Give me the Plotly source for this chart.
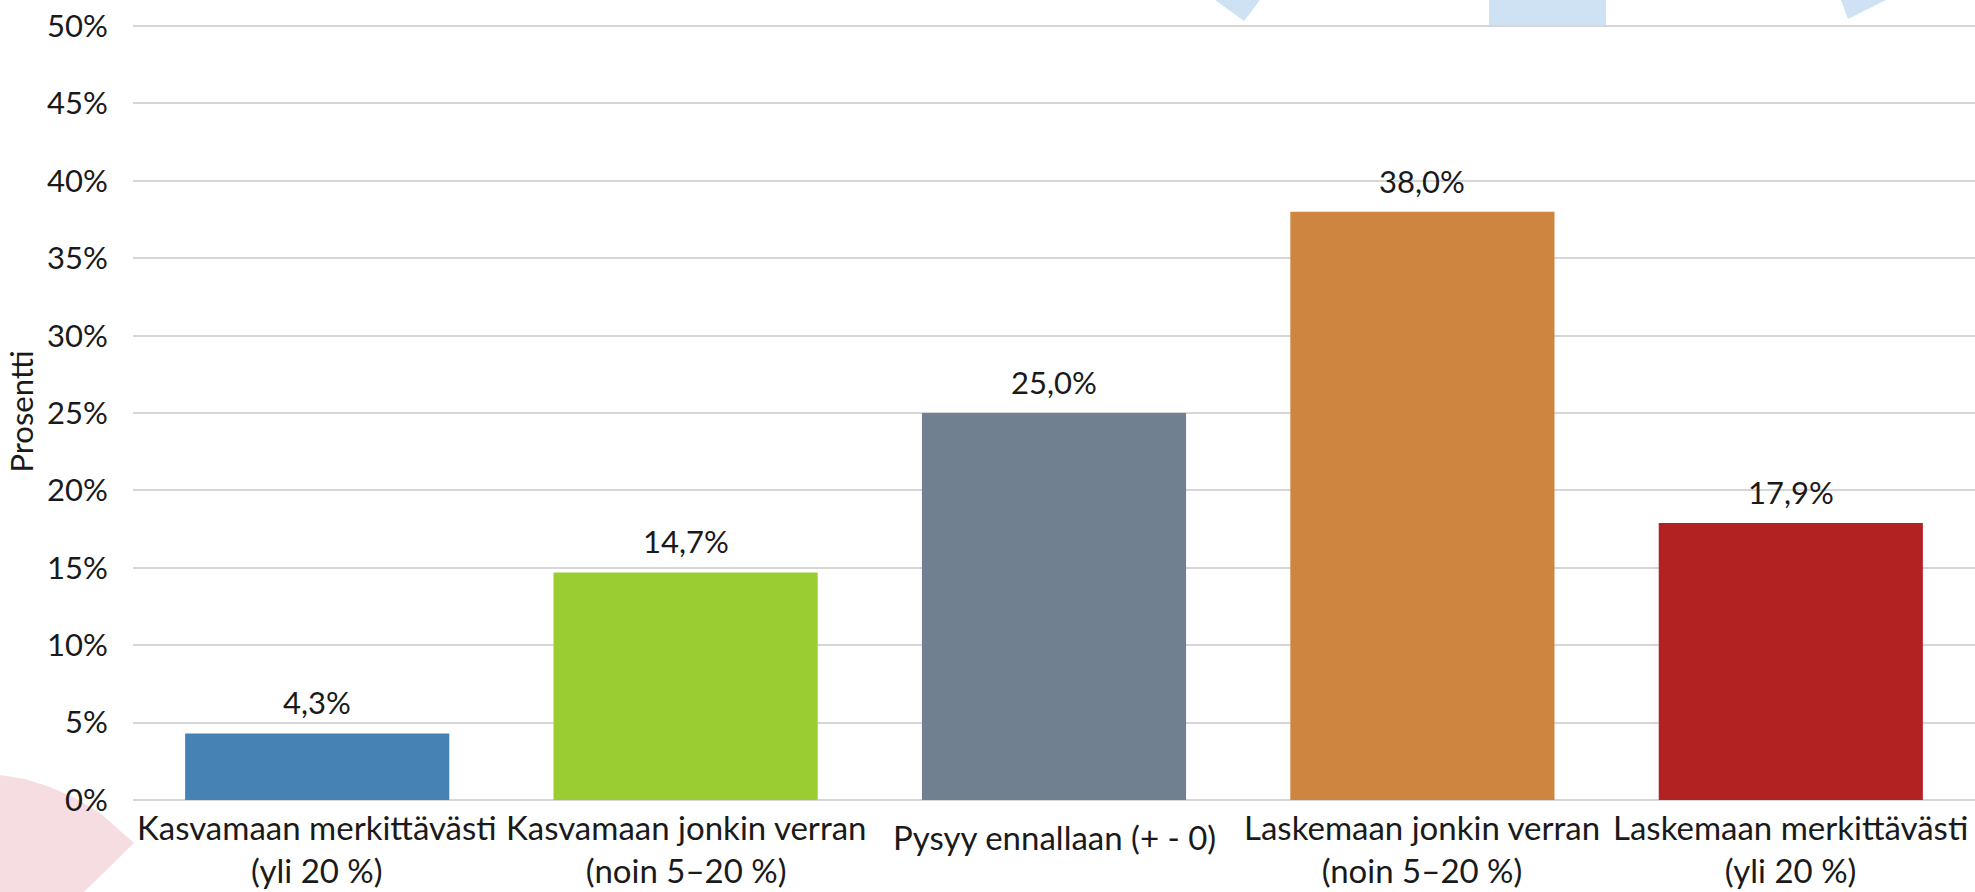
import plotly.graph_objects as go

categories = [
    "Kasvamaan merkittävästi",
    "Kasvamaan jonkin verran",
    "Pysyy ennallaan (+ - 0)",
    "Laskemaan jonkin verran",
    "Laskemaan merkittävästi",
]
category_sublabels = ["(yli 20 %)", "(noin 5–20 %)", "", "(noin 5–20 %)", "(yli 20 %)"]
values = [4.3, 14.7, 25.0, 38.0, 17.9]
value_labels = ["4,3%", "14,7%", "25,0%", "38,0%", "17,9%"]
bar_colors = ["#4682B4", "#9ACD32", "#708090", "#CD853F", "#B22222"]
y_tick_vals = [0, 5, 10, 15, 20, 25, 30, 35, 40, 45, 50]
y_max = 50.2

W, H = 1975, 892
PLOT_LEFT, PLOT_RIGHT, PLOT_BOTTOM = 133, 1975, 800
PX_PER_UNIT = 15.48
PLOT_TOP = PLOT_BOTTOM - round(y_max * PX_PER_UNIT)
ML, MR, MT, MB = PLOT_LEFT, W - PLOT_RIGHT, PLOT_TOP, H - PLOT_BOTTOM
PW, PH = W - ML - MR, H - MT - MB
FONT = "Lato, 'Open Sans', sans-serif"
TXT = "#1a1a1a"


def px(x, y):
    """pixel -> paper coords"""
    return (x - PLOT_LEFT) / PW, (PLOT_BOTTOM - y) / PH


def path(points):
    parts = []
    for i, (x, y) in enumerate(points):
        a, b = px(x, y)
        parts.append(("M" if i == 0 else "L") + f"{a:.5f},{b:.5f}")
    return " ".join(parts) + " Z"


shapes = [
    dict(type="path", xref="paper", yref="paper", layer="below", line_width=0,
         fillcolor="#cfe2f3", path=path([(1215, 0), (1260, 0), (1244, 21)])),
    dict(type="path", xref="paper", yref="paper", layer="below", line_width=0,
         fillcolor="#cfe2f3", path=path([(1489, 0), (1606, 0), (1606, 25), (1489, 25)])),
    dict(type="path", xref="paper", yref="paper", layer="below", line_width=0,
         fillcolor="#cfe2f3", path=path([(1841, 0), (1886, 0), (1848, 19)])),
    dict(type="path", xref="paper", yref="paper", layer="below", line_width=0,
         fillcolor="#f6dde2",
         path=path([(0, 775), (25, 779), (50, 787), (75, 798), (100, 813),
                    (134, 843), (84, 892), (0, 892)])),
]

fig = go.Figure(
    go.Bar(
        x=categories,
        y=values,
        marker=dict(color=bar_colors, line_width=0),
        hoverinfo="skip",
    )
)

annotations = [
    dict(x=c, y=v, xref="x", yref="y", text=t, showarrow=False,
         yanchor="bottom", yshift=10,
         font=dict(family=FONT, size=31, color=TXT))
    for c, v, t in zip(categories, values, value_labels)
]
for c, sub in zip(categories, category_sublabels):
    if sub:
        annotations.append(dict(x=c, y=0, xref="x", yref="paper", text=f"{c}<br>{sub}",
                                showarrow=False, yanchor="middle", yshift=-48,
                                font=dict(family=FONT, size=33, color=TXT)))
    else:
        annotations.append(dict(x=c, y=0, xref="x", yref="paper", text=c,
                                showarrow=False, yanchor="middle", yshift=-37,
                                font=dict(family=FONT, size=33, color=TXT)))

fig.update_layout(
    width=W, height=H,
    margin=dict(l=ML, r=MR, t=MT, b=MB, pad=0),
    paper_bgcolor="white",
    plot_bgcolor="rgba(0,0,0,0)",
    bargap=0.283,
    showlegend=False,
    shapes=shapes,
    annotations=annotations,
    font=dict(family=FONT, size=31, color=TXT),
)
fig.update_xaxes(
    showgrid=False, showline=False, zeroline=False, automargin=False,
    ticks="", showticklabels=False,
)
fig.update_yaxes(
    range=[0, y_max], automargin=False,
    tickvals=y_tick_vals,
    ticktext=[f"{v}%" for v in y_tick_vals],
    showgrid=True, gridcolor="#d6d6d6", gridwidth=2,
    zeroline=True, zerolinecolor="#d6d6d6", zerolinewidth=2,
    showline=False,
    ticks="outside", ticklen=18, tickcolor="rgba(0,0,0,0)",
    tickfont=dict(family=FONT, size=31, color=TXT),
    title=dict(text="Prosentti", font=dict(family=FONT, size=31, color=TXT), standoff=4),
)

fig.write_html(
    "out.html",
    config={"displayModeBar": False},
    post_script="document.body.style.margin='0';document.body.style.overflow='hidden';",
)
